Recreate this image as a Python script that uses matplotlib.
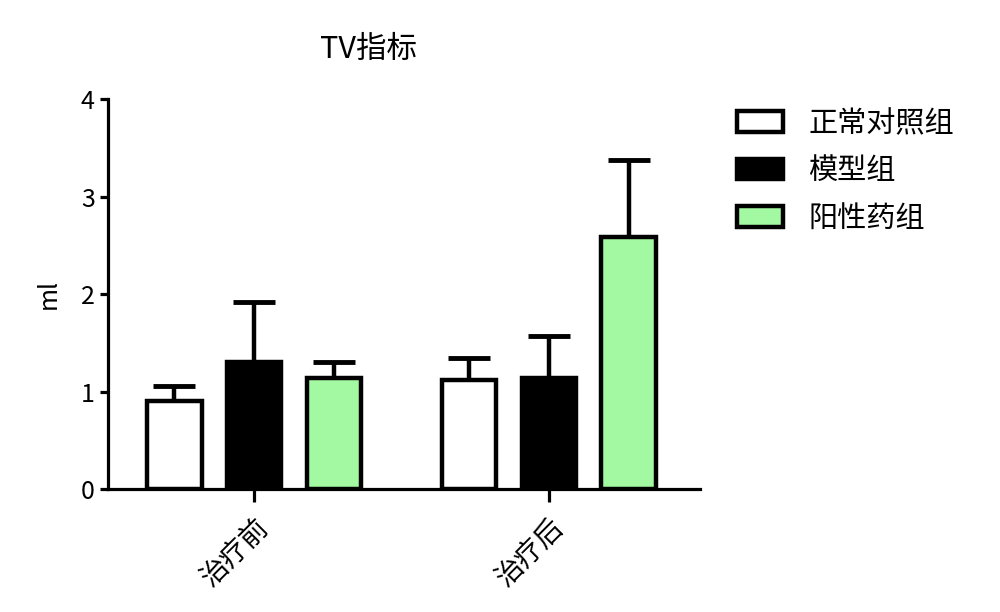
import matplotlib.pyplot as plt
import numpy as np

plt.rcParams['font.family'] = ['Noto Sans CJK SC', 'DejaVu Sans']

groups = ['治疗前', '治疗后']
series = ['正常对照组', '模型组', '阳性药组']
means = {
    '正常对照组': [0.90, 1.12],
    '模型组':     [1.30, 1.14],
    '阳性药组':   [1.14, 2.59],
}
errs = {
    '正常对照组': [0.16, 0.22],
    '模型组':     [0.62, 0.43],
    '阳性药组':   [0.16, 0.79],
}
colors = ['white', 'black', '#a3f9a1']

fig = plt.figure(figsize=(10, 6.12), dpi=100)
ax = fig.add_axes([0.108, 0.201, 0.592, 0.637])

x = np.arange(len(groups))
width = 0.186
step = 0.271
for i, name in enumerate(series):
    pos = x + (i - 1) * step
    ax.errorbar(pos, means[name], yerr=[np.zeros(len(groups)), errs[name]],
                fmt='none', ecolor='black', elinewidth=3.2, capsize=15,
                capthick=3.5, zorder=1)
    ax.bar(pos, means[name], width, color=colors[i], edgecolor='black',
           linewidth=3.2, label=name, zorder=2)

ax.set_xlim(-0.495, 1.512)
ax.set_ylim(0, 4)
ax.set_yticks([0, 1, 2, 3, 4])
ax.set_xticks(x)
ax.set_xticklabels(groups, rotation=45, ha='right', rotation_mode='anchor',
                   fontsize=20)
ax.tick_params(axis='y', labelsize=18, width=2.3, length=6, direction='out')
ax.tick_params(axis='x', width=2.3, length=9, direction='out', pad=8)
for s in ['top', 'right']:
    ax.spines[s].set_visible(False)
for s in ['left', 'bottom']:
    ax.spines[s].set_linewidth(2.3)

ax.set_ylabel('ml', fontsize=18, labelpad=14)
ax.set_title('TV指标', fontsize=22, pad=30, x=0.44)

leg = ax.legend(loc='upper left', bbox_to_anchor=(1.062, 0.975), frameon=False,
                fontsize=21, handlelength=1.6, handleheight=0.7,
                labelspacing=0.6, handletextpad=0.85, borderpad=0,
                borderaxespad=0)

fig.savefig('out.png', dpi=100)
